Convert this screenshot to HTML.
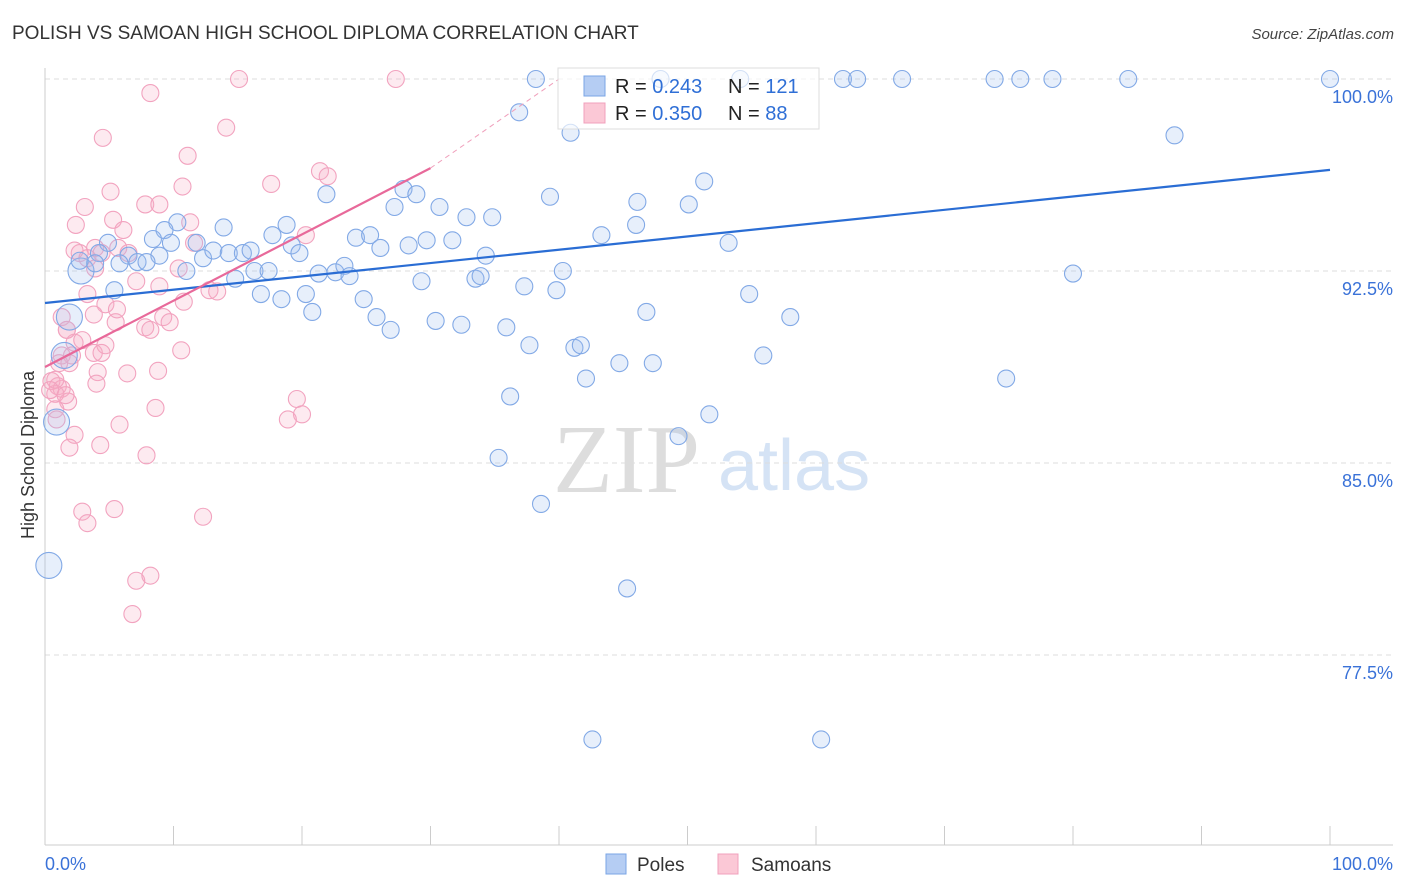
<!DOCTYPE html>
<html><head><meta charset="utf-8"><style>
body{margin:0;background:#fff;font-family:"Liberation Sans",sans-serif}
svg{display:block}
</style></head><body>
<svg id="chart" width="1406" height="892" viewBox="0 0 1406 892" xmlns="http://www.w3.org/2000/svg">
<text x="12" y="39" font-size="19" fill="#333">POLISH VS SAMOAN HIGH SCHOOL DIPLOMA CORRELATION CHART</text>
<text x="1394" y="39" font-size="15" fill="#444" font-style="italic" text-anchor="end">Source: ZipAtlas.com</text>
<g>
<text x="553" y="492" font-family="Liberation Serif,serif" font-size="98" fill="#ddd">ZIP</text>
<text x="718" y="490" font-size="72" fill="#d5e3f5">atlas</text>
</g>
<g id="grid"></g>
<g id="axes"></g>
<g id="pink"></g>
<g id="blue"></g>
<g id="lines"></g>
<text transform="translate(34,455) rotate(-90)" font-size="18" fill="#333" text-anchor="middle">High School Diploma</text>
<g>
<rect x="558" y="68" width="261" height="61" fill="#fff" fill-opacity="0.65" stroke="#ddd"/>
<rect x="584" y="76" width="21" height="20" fill="#b5cdf3" stroke="#7aa5e6"/>
<rect x="584" y="103" width="21" height="20" fill="#fbc8d6" stroke="#f0a0bc"/>
<text x="615" y="93" font-size="20" fill="#222">R = <tspan fill="#2f6fd6">0.243</tspan></text>
<text x="728" y="93" font-size="20" fill="#222">N = <tspan fill="#2f6fd6">121</tspan></text>
<text x="615" y="120" font-size="20" fill="#222">R = <tspan fill="#2f6fd6">0.350</tspan></text>
<text x="728" y="120" font-size="20" fill="#222">N = <tspan fill="#2f6fd6"> 88</tspan></text>
</g>
<g>
<rect x="606" y="854" width="20" height="20" fill="#b5cdf3" stroke="#7aa5e6"/>
<text x="637" y="871" font-size="19" fill="#333">Poles</text>
<rect x="718" y="854" width="20" height="20" fill="#fbc8d6" stroke="#f0a0bc"/>
<text x="751" y="871" font-size="19" fill="#333">Samoans</text>
</g>
<text x="45" y="870" font-size="18" fill="#3a72d8">0.0%</text>
<text x="1393" y="870" font-size="18" fill="#3a72d8" text-anchor="end">100.0%</text>
</svg>
<script>
const yTicks=[100,92.5,85,77.5];
const yTickLabels=["100.0%","92.5%","85.0%","77.5%"];
const xTicks=[0,10,20,30,40,50,60,70,80,90,100];
const polesX=[38.2,47.9,54.1,62.1,63.2,66.7,73.9,75.9,78.4,84.3,100,36.9,40.9,87.9,51.3,21.9,27.9,28.9,39.3,27.2,30.7,46.1,50.1,32.8,34.8,10.3,13.9,9.3,18.8,43.3,46.0,4.9,8.4,9.8,11.8,17.7,24.2,25.3,19.2,26.1,28.3,29.7,31.7,53.2,4.2,6.5,8.9,12.3,13.1,14.3,15.4,16.0,19.8,34.3,2.8,3.9,5.8,7.2,7.9,11.0,14.8,16.3,17.4,21.3,22.6,23.3,23.7,29.3,33.5,33.9,37.3,39.8,40.3,80.0,5.4,16.8,20.3,18.4,20.8,24.8,25.8,26.9,30.4,32.4,35.9,54.8,46.8,58.0,1.9,37.7,41.2,41.7,44.7,47.3,55.9,42.1,74.8,36.2,51.7,49.3,35.3,38.6,45.3,42.6,60.4,0.9,0.3,1.5,2.7];
const polesY=[100,100,100,100,100,100,100,100,100,100,100,98.7,97.9,97.8,96.0,95.5,95.7,95.5,95.4,95.0,95.0,95.2,95.1,94.6,94.6,94.4,94.2,94.1,94.3,93.9,94.3,93.6,93.75,93.6,93.6,93.9,93.8,93.9,93.5,93.4,93.5,93.7,93.7,93.6,93.2,93.1,93.1,93.0,93.3,93.2,93.2,93.3,93.2,93.1,92.5,92.8,92.8,92.85,92.85,92.5,92.2,92.5,92.5,92.4,92.45,92.7,92.3,92.1,92.2,92.3,91.9,91.75,92.5,92.4,91.75,91.6,91.6,91.4,90.9,91.4,90.7,90.2,90.55,90.4,90.3,91.6,90.9,90.7,90.7,89.6,89.5,89.6,88.9,88.9,89.2,88.3,88.3,87.6,86.9,86.05,85.2,83.4,80.1,74.2,74.2,86.6,81.0,89.2,92.9];
const polesBig=[0,0,0,0,0,0,0,0,0,0,0,0,0,0,0,0,0,0,0,0,0,0,0,0,0,0,0,0,0,0,0,0,0,0,0,0,0,0,0,0,0,0,0,0,0,0,0,0,0,0,0,0,0,0,1,0,0,0,0,0,0,0,0,0,0,0,0,0,0,0,0,0,0,0,0,0,0,0,0,0,0,0,0,0,0,0,0,0,1,0,0,0,0,0,0,0,0,0,0,0,0,0,0,0,0,1,1,1,0];
const samX=[15.1,27.3,8.2,14.1,4.5,11.1,17.6,10.7,21.4,22.0,5.1,3.1,7.8,8.9,2.4,5.3,6.1,11.3,20.3,2.7,3.9,4.4,5.7,6.5,11.6,3.3,3.9,10.4,7.1,8.9,12.8,13.4,3.3,4.7,10.8,9.2,9.7,5.5,7.8,8.2,1.3,1.7,3.8,2.3,2.9,1.3,2.1,3.8,4.7,10.6,1.1,1.9,4.1,6.4,8.8,0.5,1.0,1.3,4.0,0.8,1.8,0.8,19.6,20.0,18.9,8.6,5.8,2.3,1.9,4.3,7.9,2.9,5.4,12.3,3.3,7.1,8.2,6.8,0.8,0.4,1.6,4.4,1.7,5.6,0.9,2.3];
const samY=[100,100,99.45,98.1,97.7,97.0,95.9,95.8,96.4,96.2,95.6,95.0,95.1,95.1,94.3,94.5,94.1,94.4,93.9,93.2,93.4,93.2,93.4,93.2,93.6,93.0,92.6,92.6,92.1,91.9,91.75,91.7,91.6,91.2,91.3,90.7,90.5,90.5,90.3,90.2,90.7,90.2,90.8,89.7,89.8,89.2,89.2,89.3,89.6,89.4,88.9,88.9,88.55,88.5,88.6,88.2,88.0,87.9,88.1,87.7,87.4,87.1,87.5,86.9,86.7,87.15,86.5,86.1,85.6,85.7,85.3,83.1,83.2,82.9,82.65,80.4,80.6,79.1,88.25,87.85,87.65,89.3,90.2,91.0,86.7,93.3];
const polesTrend=[[0,91.25],[100,96.45]];
const samTrend=[[0,88.75],[30,96.52]];
const samTrendExt=[[30,96.52],[40,100]];

const NS="http://www.w3.org/2000/svg";
const X0=45,X1=1330,YTOP=79,PXPER=25.6,YBOT=845;
const sx=v=>X0+(X1-X0)*v/100;
const sy=v=>YTOP+(100-v)*PXPER;
function mk(tag,attrs,parent){const e=document.createElementNS(NS,tag);for(const k in attrs)e.setAttribute(k,attrs[k]);parent.appendChild(e);return e;}
const grid=document.getElementById('grid'),axes=document.getElementById('axes');
yTicks.forEach((t,i)=>{
  const l=mk('line',{x1:X0,x2:1393,y1:sy(t),y2:sy(t),stroke:'#ddd','stroke-dasharray':'5,4'},grid);
  
  
  const tx=mk('text',{x:1393,y:sy(t)+24,'font-size':18,fill:'#3a72d8','text-anchor':'end'},axes);
  tx.textContent=yTickLabels[i];
  
  
});
const ya=mk('line',{x1:X0,x2:X0,y1:68,y2:YBOT,stroke:'#ccc'},axes);


const xa=mk('line',{x1:X0,x2:1393,y1:YBOT,y2:YBOT,stroke:'#ccc'},axes);


xTicks.forEach(t=>{
  const l=mk('line',{x1:sx(t),x2:sx(t),y1:826,y2:YBOT,stroke:'#ccc'},axes);
  
  
});
const pg=document.getElementById('pink');
samX.forEach((v,i)=>{
  const c=mk('circle',{cx:sx(v),cy:sy(samY[i]),r:8.5,fill:'rgba(247,170,196,0.25)',stroke:'#f2a3bf','stroke-width':1.1},pg);
  
  
});
const bg=document.getElementById('blue');
polesX.forEach((v,i)=>{
  const c=mk('circle',{cx:sx(v),cy:sy(polesY[i]),r:polesBig[i]?13:8.5,fill:'rgba(160,192,240,0.25)',stroke:'#82a9e6','stroke-width':1.1},bg);
  
  
});
const lg=document.getElementById('lines');
const l1=mk('line',{x1:sx(polesTrend[0][0]),y1:sy(polesTrend[0][1]),x2:sx(polesTrend[1][0]),y2:sy(polesTrend[1][1]),stroke:'#2a6dd4','stroke-width':2.2},lg);


const l2=mk('line',{x1:sx(samTrend[0][0]),y1:sy(samTrend[0][1]),x2:sx(samTrend[1][0]),y2:sy(samTrend[1][1]),stroke:'#e8699a','stroke-width':2.2},lg);


const l3=mk('line',{x1:sx(samTrendExt[0][0]),y1:sy(samTrendExt[0][1]),x2:sx(samTrendExt[1][0]),y2:sy(samTrendExt[1][1]),stroke:'#f0a0bc','stroke-width':1,'stroke-dasharray':'5,4'},lg);


</script>
</body></html>
